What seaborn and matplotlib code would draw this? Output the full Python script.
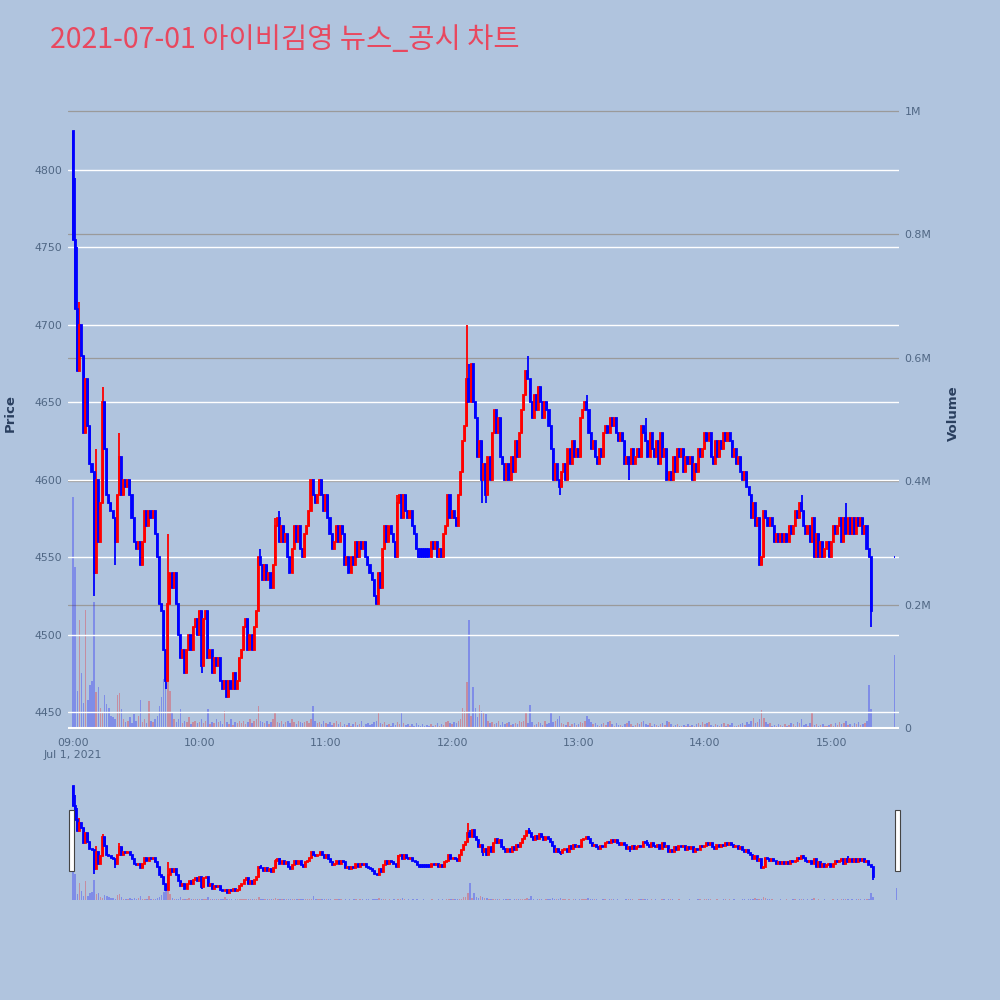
import matplotlib
matplotlib.use('Agg')
import matplotlib.pyplot as plt
import matplotlib.ticker as mticker
from matplotlib.patches import Rectangle
import seaborn as sns
import numpy as np
import pandas as pd

sns.set_style('white')
plt.rcParams['font.family'] = ['DejaVu Sans']

title = '2021-07-01 아이비김영 뉴스_공시 차트'

# 1분봉 종가, 09:00 ~ 15:19
closes = [
    4755, 4710, 4670, 4700, 4680, 4630, 4665, 4635, 4610, 4605,  # 09:00
    4540, 4600, 4560, 4585, 4650, 4620, 4590, 4585, 4580, 4575,
    4560, 4590, 4615, 4590, 4600, 4595, 4600, 4590, 4575, 4560,
    4555, 4560, 4545, 4560, 4580, 4570, 4580, 4575, 4580, 4565,
    4550, 4520, 4515, 4490, 4470, 4520, 4540, 4530, 4540, 4520,
    4500, 4485, 4490, 4475, 4490, 4500, 4490, 4505, 4510, 4500,
    4515, 4480, 4510, 4515, 4485, 4490, 4475, 4485, 4480, 4485,  # 10:00
    4470, 4465, 4470, 4460, 4470, 4465, 4475, 4465, 4470, 4485,
    4490, 4505, 4510, 4490, 4500, 4490, 4505, 4515, 4550, 4545,
    4535, 4545, 4535, 4540, 4530, 4545, 4570, 4575, 4560, 4570,
    4560, 4565, 4550, 4540, 4555, 4570, 4560, 4570, 4555, 4550,
    4565, 4570, 4580, 4600, 4590, 4585, 4590, 4600, 4590, 4580,
    4590, 4575, 4565, 4555, 4560, 4570, 4560, 4570, 4565, 4545,  # 11:00
    4550, 4540, 4550, 4545, 4560, 4550, 4560, 4555, 4560, 4550,
    4545, 4540, 4535, 4525, 4520, 4540, 4530, 4555, 4570, 4560,
    4570, 4565, 4560, 4550, 4585, 4590, 4575, 4590, 4580, 4575,
    4580, 4570, 4565, 4555, 4550, 4550, 4550, 4550, 4550, 4550,
    4560, 4555, 4560, 4550, 4555, 4550, 4565, 4570, 4590, 4575,
    4580, 4575, 4570, 4590, 4605, 4625, 4635, 4665, 4650, 4675,  # 12:00
    4650, 4640, 4615, 4625, 4600, 4610, 4590, 4615, 4600, 4630,
    4645, 4630, 4640, 4615, 4610, 4600, 4610, 4600, 4615, 4605,
    4625, 4615, 4630, 4645, 4655, 4670, 4665, 4650, 4640, 4655,
    4645, 4660, 4650, 4640, 4650, 4645, 4635, 4620, 4600, 4610,
    4600, 4595, 4605, 4610, 4600, 4620, 4610, 4625, 4615, 4620,
    4615, 4640, 4645, 4650, 4645, 4630, 4620, 4625, 4615, 4610,  # 13:00
    4620, 4615, 4630, 4635, 4630, 4640, 4635, 4640, 4630, 4625,
    4630, 4625, 4610, 4615, 4610, 4620, 4610, 4615, 4620, 4615,
    4635, 4630, 4625, 4615, 4630, 4620, 4615, 4625, 4610, 4630,
    4615, 4620, 4600, 4605, 4600, 4615, 4605, 4620, 4615, 4620,
    4605, 4615, 4610, 4615, 4600, 4610, 4605, 4620, 4615, 4620,
    4630, 4625, 4630, 4615, 4610, 4625, 4615, 4625, 4620, 4630,  # 14:00
    4625, 4630, 4625, 4615, 4620, 4610, 4615, 4605, 4600, 4605,
    4595, 4590, 4575, 4585, 4570, 4575, 4545, 4550, 4580, 4575,
    4570, 4575, 4570, 4560, 4565, 4560, 4565, 4560, 4565, 4560,
    4570, 4565, 4570, 4580, 4575, 4585, 4580, 4570, 4565, 4570,
    4560, 4575, 4550, 4565, 4550, 4560, 4550, 4555, 4560, 4550,
    4560, 4570, 4565, 4570, 4575, 4560, 4575, 4565, 4575, 4565,  # 15:00
    4575, 4565, 4575, 4570, 4575, 4565, 4570, 4555, 4550, 4515,
]
first_open = 4825
open_fix = {164: 4555, 165: 4555, 166: 4555, 167: 4555, 168: 4555, 169: 4555}
high_fix = {0: 4825, 1: 4795, 2: 4750, 3: 4715, 11: 4620, 14: 4660, 22: 4630,
            45: 4565, 89: 4555, 96: 4575, 98: 4580, 154: 4590, 187: 4700,
            188: 4675, 216: 4680, 244: 4655, 272: 4640, 346: 4590, 367: 4585}
low_fix = {10: 4525, 20: 4545, 44: 4465, 61: 4475, 73: 4460, 194: 4585,
           196: 4585, 231: 4590, 264: 4600, 379: 4505}

# 거래량 (천주)
volumes_k = [
    375, 261, 60, 175, 89, 40, 191, 45, 70, 76,
    204, 58, 66, 32, 25, 54, 39, 32, 20, 18,
    15, 54, 57, 30, 15, 10, 12, 18, 8, 22,
    12, 20, 45, 10, 14, 8, 43, 12, 9, 15,
    20, 35, 50, 80, 115, 90, 60, 25, 15, 10,
    15, 30, 8, 12, 10, 18, 6, 9, 12, 8,
    10, 14, 8, 12, 30, 6, 10, 8, 15, 9,
    12, 6, 28, 10, 6, 14, 5, 10, 8, 12,
    8, 12, 6, 10, 14, 8, 12, 15, 35, 12,
    10, 8, 12, 6, 9, 14, 24, 10, 8, 12,
    6, 10, 12, 8, 14, 10, 6, 12, 9, 8,
    10, 12, 8, 15, 36, 12, 8, 10, 6, 12,
    8, 6, 10, 5, 8, 12, 6, 9, 4, 7,
    5, 8, 4, 6, 10, 5, 7, 12, 4, 6,
    8, 5, 6, 10, 12, 24, 8, 6, 10, 5,
    6, 4, 8, 5, 10, 6, 24, 8, 5, 6,
    4, 6, 3, 8, 5, 4, 6, 3, 5, 4,
    6, 3, 5, 8, 4, 6, 5, 10, 12, 8,
    6, 10, 8, 12, 15, 32, 27, 75, 175, 20,
    67, 32, 18, 37, 28, 25, 22, 12, 8, 10,
    6, 8, 12, 5, 10, 6, 8, 10, 5, 6,
    8, 6, 12, 10, 12, 25, 8, 38, 10, 5,
    6, 10, 8, 5, 12, 6, 8, 24, 10, 12,
    14, 20, 8, 6, 5, 10, 4, 6, 8, 5,
    6, 10, 8, 12, 20, 14, 10, 6, 8, 5,
    4, 6, 8, 5, 10, 12, 6, 4, 8, 5,
    5, 4, 6, 8, 12, 6, 4, 5, 8, 6,
    10, 12, 6, 5, 8, 4, 6, 5, 4, 6,
    8, 5, 12, 10, 6, 4, 5, 6, 4, 3,
    5, 4, 6, 3, 5, 4, 6, 8, 5, 10,
    6, 8, 10, 5, 4, 6, 5, 4, 6, 8,
    4, 6, 5, 8, 4, 3, 5, 6, 8, 5,
    10, 6, 12, 16, 8, 10, 14, 29, 16, 10,
    6, 8, 4, 5, 3, 6, 5, 4, 6, 3,
    5, 8, 6, 4, 10, 8, 14, 5, 6, 4,
    8, 24, 5, 6, 4, 5, 6, 3, 4, 5,
    6, 4, 8, 5, 10, 6, 8, 12, 5, 6,
    4, 8, 6, 10, 5, 6, 8, 12, 70, 31,
]

# 15:30 종가 단일가
auction_minute = 390
auction_price = 4550
auction_volume_k = 118

x_ticks = [0, 60, 120, 180, 240, 300, 360]
x_labels = ['09:00\nJul 1, 2021', '10:00', '11:00', '12:00', '13:00', '14:00', '15:00']
price_ticks = [4450, 4500, 4550, 4600, 4650, 4700, 4750, 4800]
vol_ticks = [0, 200000, 400000, 600000, 800000, 1000000]

# 데이터프레임 구성
opens = [first_open] + closes[:-1]
df = pd.DataFrame({'minute': np.arange(len(closes)), 'open': opens, 'close': closes})
for m, v in open_fix.items():
    df.loc[m, 'open'] = v
df['high'] = df[['open', 'close']].max(axis=1)
df['low'] = df[['open', 'close']].min(axis=1)
for m, v in high_fix.items():
    df.loc[m, 'high'] = v
for m, v in low_fix.items():
    df.loc[m, 'low'] = v
df['volume'] = np.array(volumes_k) * 1000
df.loc[len(df)] = [auction_minute, auction_price, auction_price, auction_price,
                   auction_price, auction_volume_k * 1000]
df['color'] = np.where(df['close'] > df['open'], 'red', 'blue')

BG = '#B0C4DE'
PLOT_BG = '#E5ECF6'
TICK_C = '#506784'
TITLE_C = '#2A3F5F'


def draw_candles(ax, d, lw):
    ax.vlines(d['minute'], d['low'], d['high'], colors=d['color'], lw=lw, zorder=3)
    ax.bar(d['minute'], (d['close'] - d['open']).abs(), bottom=d[['open', 'close']].min(axis=1),
           width=0.5, color=d['color'], edgecolor=d['color'], linewidth=lw, zorder=4)


fig = plt.figure(figsize=(10, 10), dpi=100, facecolor=BG)

# 메인 차트
ax = fig.add_axes([0.068, 0.27, 0.831, 0.634])
ax2 = ax.twinx()
ax.set_zorder(2)
ax2.set_zorder(1)
ax.patch.set_visible(False)
ax2.set_facecolor(PLOT_BG)

ax2.bar(df['minute'], df['volume'], width=0.7, color=df['color'], alpha=0.28, lw=0)
ax2.set_ylim(-3240, 1024300)
ax2.set_yticks(vol_ticks)
ax2.yaxis.set_major_formatter(mticker.FuncFormatter(
    lambda v, p: '0' if v == 0 else ('%gM' % (v / 1e6))))
ax2.grid(axis='y', color='#9a9a9a', lw=0.9)
ax2.axhline(0, color='white', lw=1.5)
ax2.set_ylabel('Volume', fontsize=9.5, fontweight='bold', color=TITLE_C)
ax2.yaxis.set_label_coords(1.058, 0.5)

draw_candles(ax, df, 1.3)
ax.set_xlim(-2.4, 392.2)
ax.set_ylim(4438.4, 4847.8)
ax.set_yticks(price_ticks)
ax.grid(axis='y', color='white', lw=1.0)
ax.set_axisbelow(True)
ax.set_xticks(x_ticks)
ax.set_xticklabels(x_labels)
ax.set_ylabel('Price', fontsize=9.5, fontweight='bold', color=TITLE_C)
ax.yaxis.set_label_coords(-0.062, 0.5)

for a in (ax, ax2):
    for s in a.spines.values():
        s.set_visible(False)
    a.tick_params(length=0, labelsize=7.9, labelcolor=TICK_C)
ax.tick_params(axis='y', pad=4)
ax.tick_params(axis='x', pad=6)
ax2.tick_params(axis='y', pad=4)

# 레인지 슬라이더
axs = fig.add_axes([0.072, 0.10, 0.825, 0.12])
axs2 = axs.twinx()
axs.set_zorder(2)
axs2.set_zorder(1)
axs.patch.set_visible(False)
axs2.set_facecolor(PLOT_BG)
axs2.bar(df['minute'], df['volume'], width=0.7, color=df['color'], alpha=0.28, lw=0)
axs2.set_ylim(0, 1200000)
draw_candles(axs, df, 1.3)
axs.set_xlim(-0.5, 390.3)
axs.set_ylim(4436, 4845)
for a in (axs, axs2):
    a.set_xticks([])
    a.set_yticks([])
    for s in a.spines.values():
        s.set_visible(False)

for hx in (69, 895):
    fig.add_artist(Rectangle((hx / 1000, 1 - 871 / 1000), 5 / 1000, 61 / 1000,
                             transform=fig.transFigure, facecolor='white',
                             edgecolor='#444444', lw=0.8, zorder=5))

fig.text(0.05, 0.96, title, fontsize=20.5, color='#E8485F', va='center',
         family=['Noto Sans CJK KR', 'DejaVu Sans'])

fig.savefig('out.png', dpi=100, facecolor=BG)
